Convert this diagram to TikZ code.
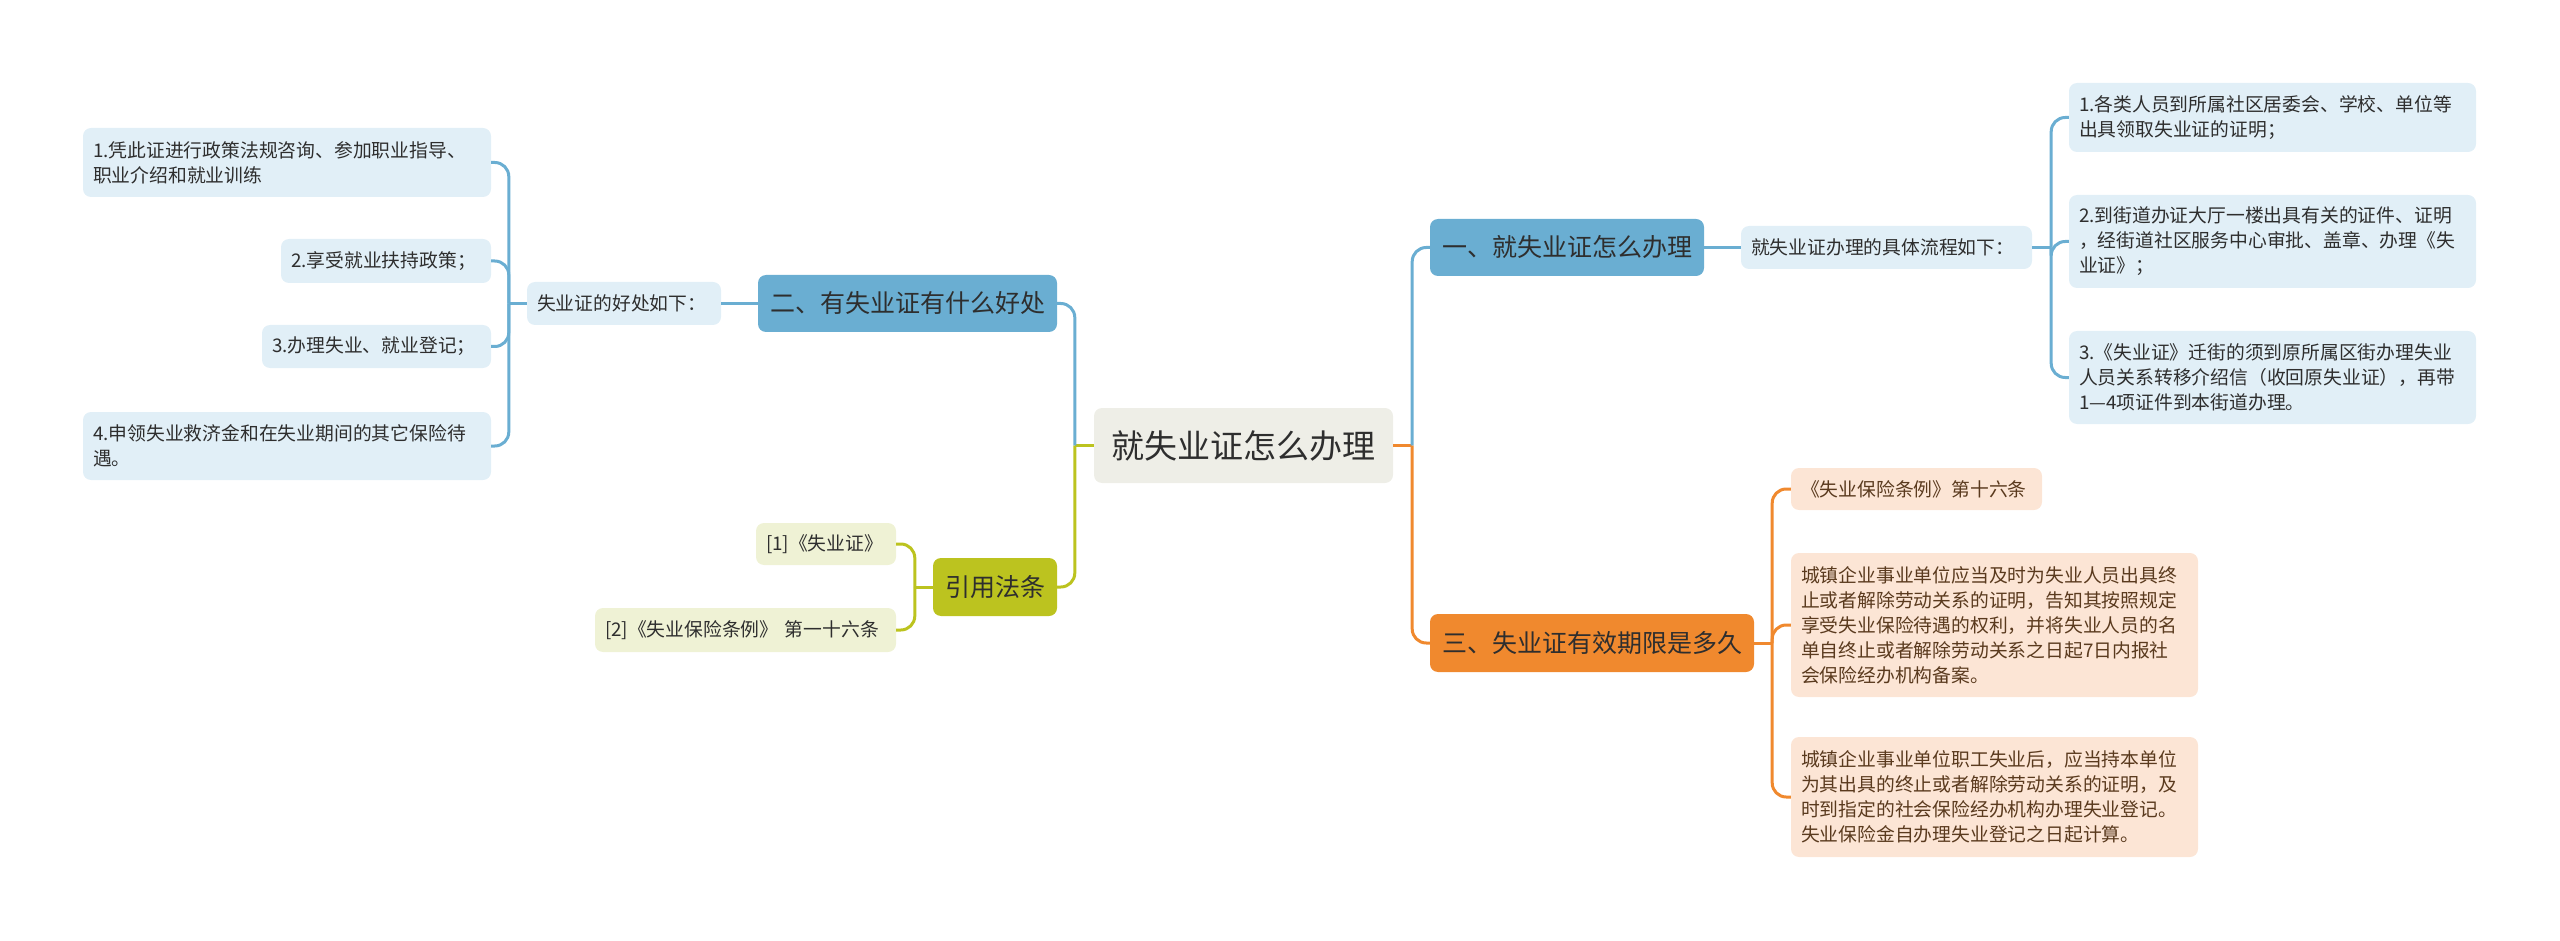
\documentclass[tikz,border=0pt]{standalone}
\usepackage{fontspec}
\newfontfamily\cjk{Noto Sans CJK SC}
\usepackage{xcolor}
\usepackage{tikz}
\usetikzlibrary{positioning}

\definecolor{rootfill}{HTML}{EEEEE7}
\definecolor{inkdark}{HTML}{2E2E2E}
\definecolor{inkbrown}{HTML}{5A3A1E}
\definecolor{bluetopic}{HTML}{6AAED2}
\definecolor{blueleaf}{HTML}{E1EFF7}
\definecolor{orangetopic}{HTML}{F0892E}
\definecolor{orangeleaf}{HTML}{FCE5D5}
\definecolor{greentopic}{HTML}{BCC31F}
\definecolor{greenleaf}{HTML}{EFF2D5}

\tikzset{
  box/.style={rounded corners=8pt, inner sep=0pt, text=inkdark},
  rootbox/.style={box, fill=rootfill, font=\cjk\fontsize{33}{40}\selectfont},
  topicbox/.style={box, font=\cjk\fontsize{25}{30}\selectfont},
  leafbox/.style={box, inner xsep=10pt, align=left, font=\cjk\fontsize{18.8}{25}\selectfont},
  blueline/.style={draw=bluetopic, line width=3pt, rounded corners=14pt},
  orangeline/.style={draw=orangetopic, line width=3pt, rounded corners=14pt},
  greenline/.style={draw=greentopic, line width=3pt, rounded corners=14pt}
}

\begin{document}
\begin{tikzpicture}[x=1pt, y=-1pt]
    \useasboundingbox (0,0) rectangle (2560,941);

    % centre
    \node[rootbox, minimum width=299pt, minimum height=75pt] (root) at (1243.5,445.5) {就失业证怎么办理};
    \coordinate[right=19pt of root] (rj);
    \coordinate[left=19pt of root] (lj);

    % branch one
    \node[topicbox, fill=bluetopic, minimum width=274pt, minimum height=57pt] (b1) at (1567,247.5) {一、就失业证怎么办理};
    \node[leafbox, fill=blueleaf, text width=271pt, minimum height=43pt] (s1) at (1886.5,247.5) {就失业证办理的具体流程如下：};
    \coordinate[right=19pt of s1] (s1j);
    \node[leafbox, fill=blueleaf, text width=387pt, minimum height=69pt] (r1) at (2272.5,117.5) {1.各类人员到所属社区居委会、学校、单位等\\出具领取失业证的证明；};
    \node[leafbox, fill=blueleaf, text width=387pt, minimum height=93pt] (r2) at (2272.5,241.5) {2.到街道办证大厅一楼出具有关的证件、证明\\，经街道社区服务中心审批、盖章、办理《失\\业证》；};
    \node[leafbox, fill=blueleaf, text width=387pt, minimum height=93pt] (r3) at (2272.5,377.5) {3.《失业证》迁街的须到原所属区街办理失业\\人员关系转移介绍信（收回原失业证），再带\\1—4项证件到本街道办理。};

    % branch two
    \node[topicbox, fill=bluetopic, minimum width=299pt, minimum height=57pt] (b2) at (907.5,303.5) {二、有失业证有什么好处};
    \node[leafbox, fill=blueleaf, text width=174pt, minimum height=43pt] (s2) at (624,303.5) {失业证的好处如下：};
    \coordinate[left=18pt of s2] (s2j);
    \node[leafbox, fill=blueleaf, text width=388pt, minimum height=69pt] (l1) at (287,162.5) {1.凭此证进行政策法规咨询、参加职业指导、\\职业介绍和就业训练};
    \node[leafbox, fill=blueleaf, text width=190pt, minimum height=44pt] (l2) at (386,261) {2.享受就业扶持政策；};
    \node[leafbox, fill=blueleaf, text width=209pt, minimum height=43pt] (l3) at (376.5,346.5) {3.办理失业、就业登记；};
    \node[leafbox, fill=blueleaf, text width=388pt, minimum height=68pt] (l4) at (287,446) {4.申领失业救济金和在失业期间的其它保险待\\遇。};

    % branch three
    \node[topicbox, fill=orangetopic, minimum width=324pt, minimum height=58pt] (b3) at (1592,643) {三、失业证有效期限是多久};
    \coordinate[right=18pt of b3] (b3j);
    \node[leafbox, fill=orangeleaf, text=inkbrown, text width=231pt, minimum height=42pt] (o1) at (1916.5,489) {《失业保险条例》第十六条};
    \node[leafbox, fill=orangeleaf, text=inkbrown, text width=387pt, minimum height=144pt] (o2) at (1994.5,625) {城镇企业事业单位应当及时为失业人员出具终\\止或者解除劳动关系的证明，告知其按照规定\\享受失业保险待遇的权利，并将失业人员的名\\单自终止或者解除劳动关系之日起7日内报社\\会保险经办机构备案。};
    \node[leafbox, fill=orangeleaf, text=inkbrown, text width=387pt, minimum height=120pt] (o3) at (1994.5,797) {城镇企业事业单位职工失业后，应当持本单位\\为其出具的终止或者解除劳动关系的证明，及\\时到指定的社会保险经办机构办理失业登记。\\失业保险金自办理失业登记之日起计算。};

    % branch four
    \node[topicbox, fill=greentopic, minimum width=124pt, minimum height=58pt] (b4) at (995,587) {引用法条};
    \coordinate[left=18pt of b4] (b4j);
    \node[leafbox, fill=greenleaf, text width=120pt, minimum height=42pt] (g1) at (826,544) {[1]《失业证》};
    \node[leafbox, fill=greenleaf, text width=281pt, minimum height=44pt] (g2) at (745.5,630) {[2]《失业保险条例》 第一十六条};

    % connectors
    \draw[orangeline] (root.east) -- (rj);
    \draw[blueline] (rj) |- (b1.west);
    \draw[orangeline] (rj) |- (b3.west);
    \draw[greenline] (root.west) -- (lj);
    \draw[blueline] (lj) |- (b2.east);
    \draw[greenline] (lj) |- (b4.east);

    \draw[blueline] (b1.east) -- (s1.west);
    \draw[blueline] (s1.east) -- (s1j);
    \foreach \n in {r1,r2,r3}
        \draw[blueline] (s1j) |- (\n.west);

    \draw[blueline] (b2.west) -- (s2.east);
    \draw[blueline] (s2.west) -- (s2j);
    \foreach \n in {l1,l2,l3,l4}
        \draw[blueline] (s2j) |- (\n.east);

    \draw[orangeline] (b3.east) -- (b3j);
    \foreach \n in {o1,o2,o3}
        \draw[orangeline] (b3j) |- (\n.west);

    \draw[greenline] (b4.west) -- (b4j);
    \foreach \n in {g1,g2}
        \draw[greenline] (b4j) |- (\n.east);
\end{tikzpicture}
\end{document}
